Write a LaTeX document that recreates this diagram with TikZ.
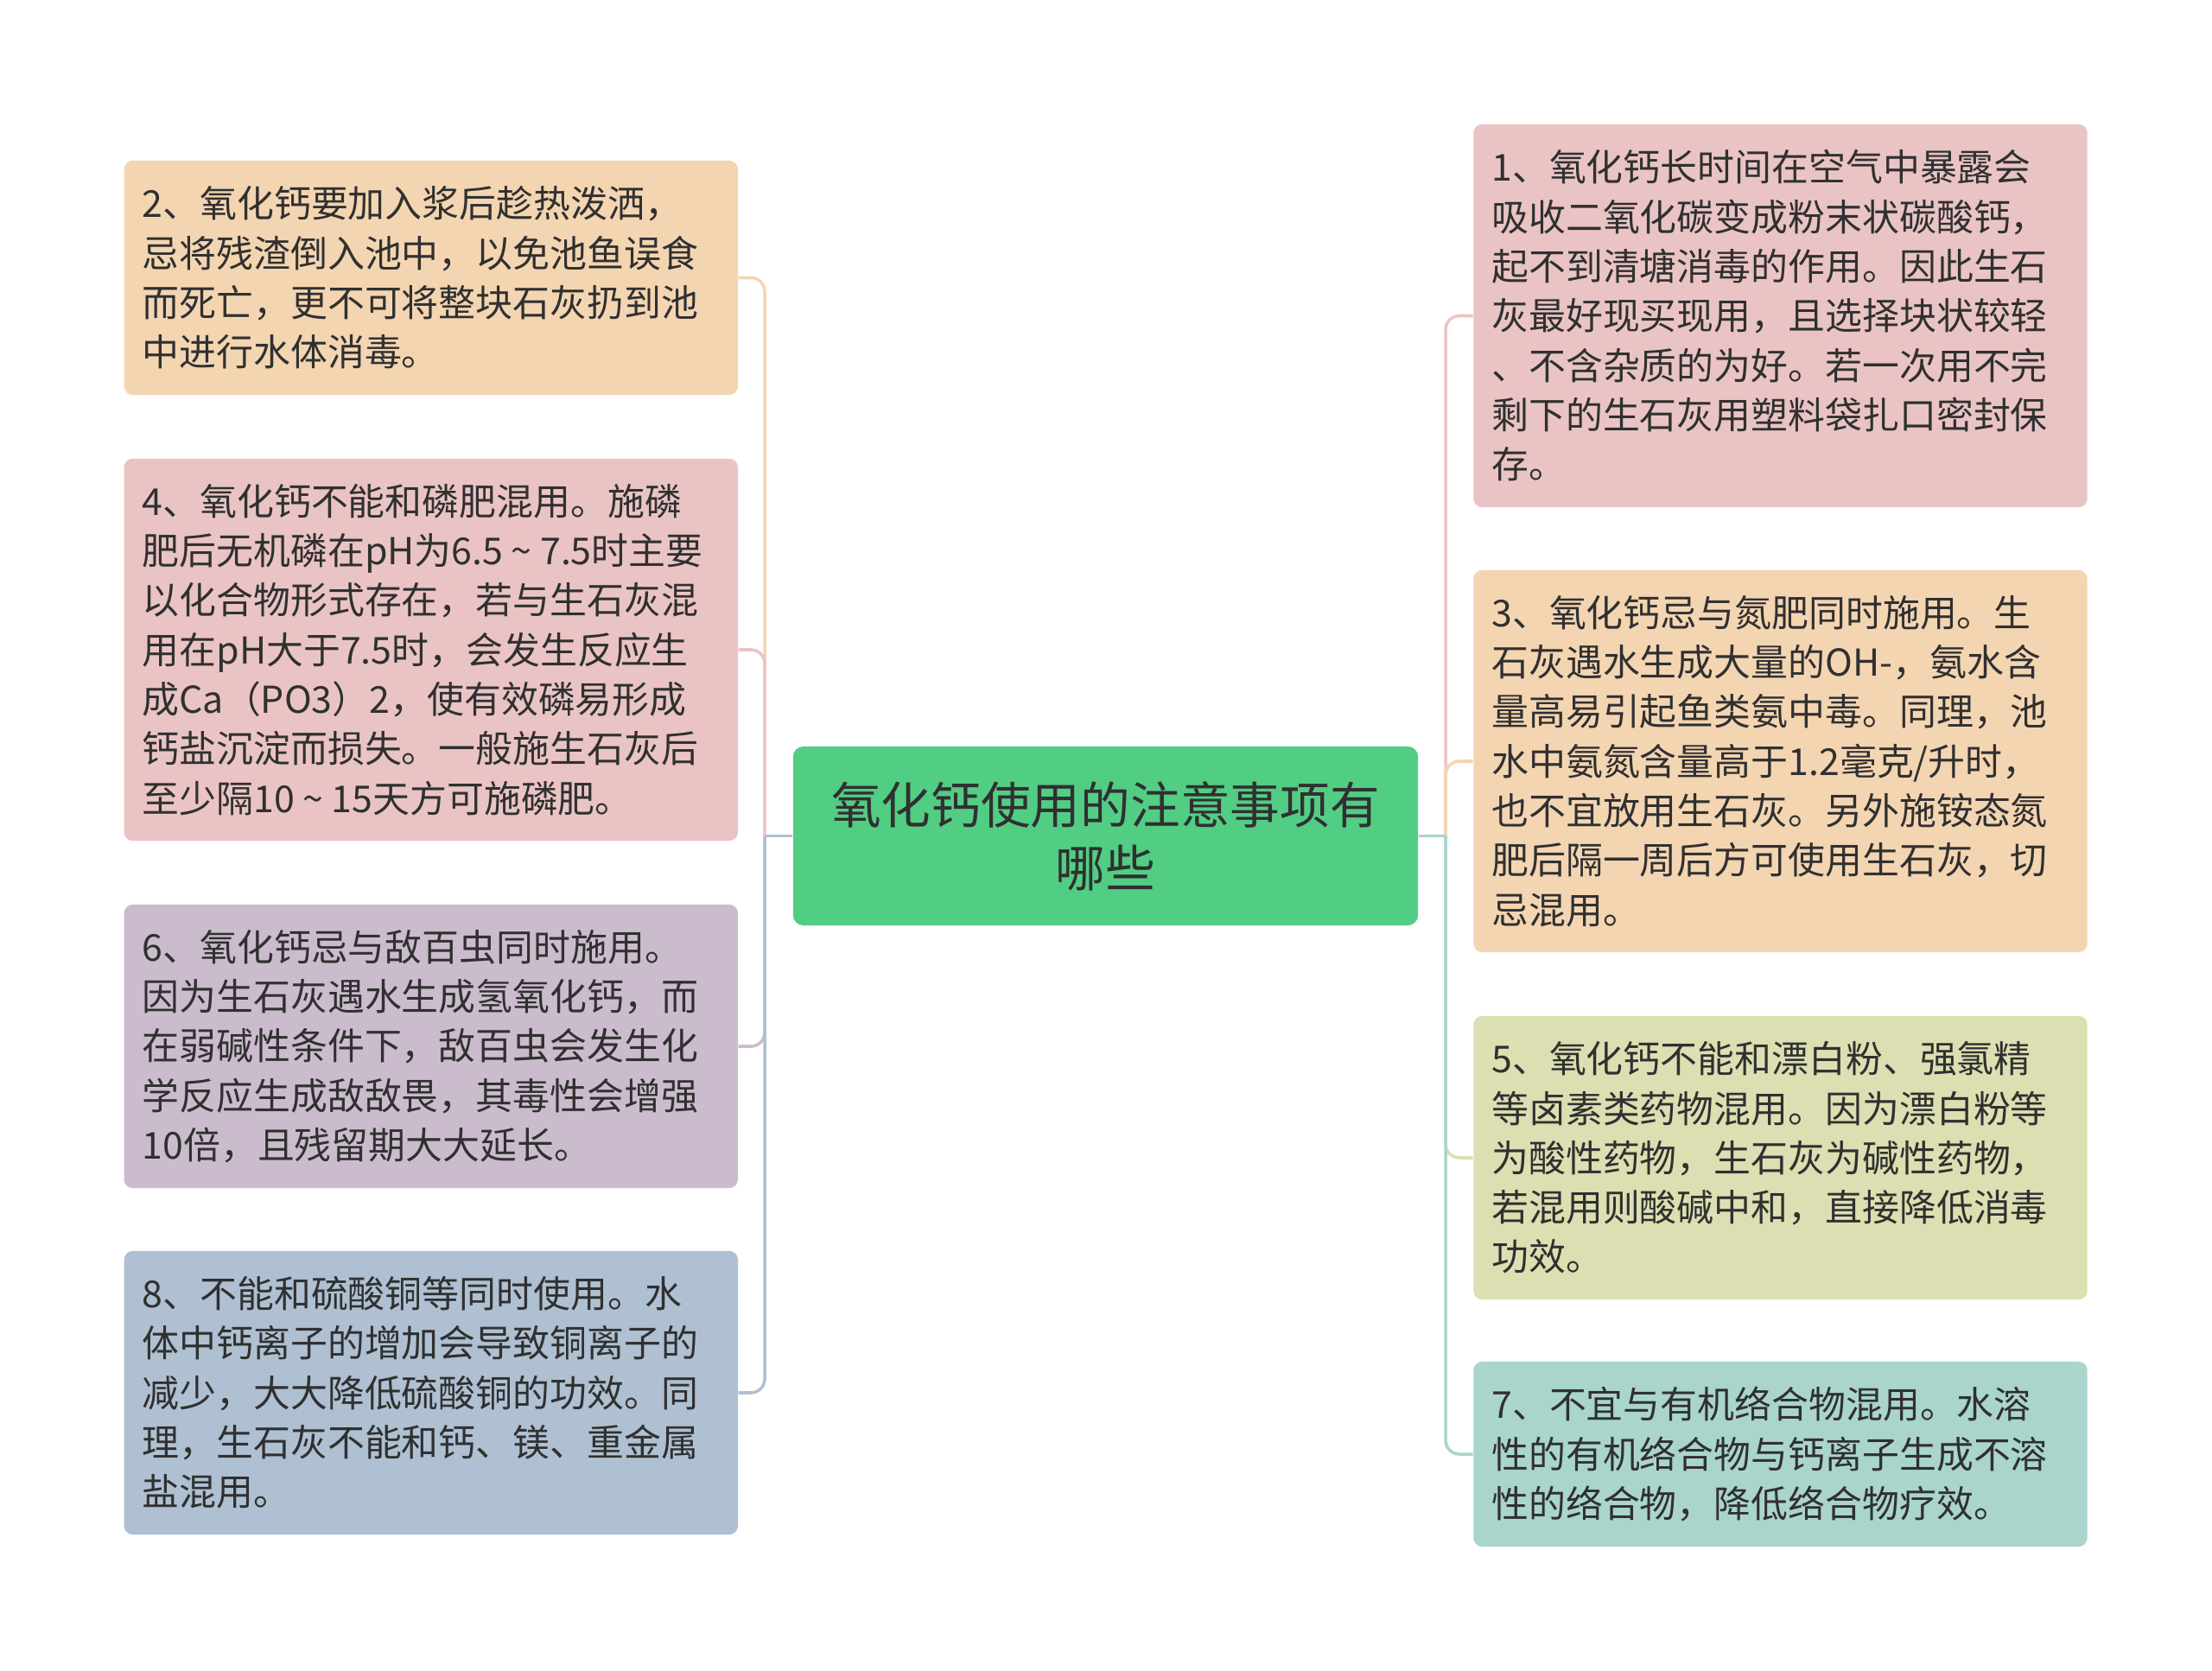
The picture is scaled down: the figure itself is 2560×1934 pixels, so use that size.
\documentclass[tikz,border=0pt]{standalone}
\usepackage{fontspec}
\setmainfont{Noto Sans CJK SC}
\definecolor{cOrange}{HTML}{F4D5B2}
\definecolor{cPink}{HTML}{EAC4C5}
\definecolor{cPurple}{HTML}{CBBCCD}
\definecolor{cBlue}{HTML}{AFC0D2}
\definecolor{cYellow}{HTML}{DCDFB1}
\definecolor{cTeal}{HTML}{A9D5CC}
\definecolor{cRoot}{HTML}{52CD84}
\definecolor{cText}{HTML}{303030}
\newcommand{\wave}{\makebox[1em][c]{\textasciitilde}}
\begin{document}
\begin{tikzpicture}[x=0.01cm,y=-0.01cm,
  leaf/.style={rounded corners=0.1cm, text=cText, align=left, text width=6.68cm,
    inner xsep=0.21cm, inner ysep=0pt, minimum width=7.1cm,
    font=\fontsize{12.2}{16.3}\selectfont},
  rootbox/.style={rounded corners=0.12cm, fill=cRoot, text=cText, align=center,
    text width=6.6cm, inner xsep=0.315cm, inner ysep=0pt, minimum width=7.23cm,
    minimum height=2.07cm, font=\fontsize{16.4}{20.8}\selectfont},
  link/.style={line width=1pt, rounded corners=0.16cm},
  stub/.style={line width=1pt}]
\useasboundingbox (0,0) rectangle (2560,1934);
\fill[white] (0,0) rectangle (2560,1934);

\node[rootbox] (root) at (1279.5,967.5) {氧化钙使用的注意事项有\\哪些};
\coordinate (jl) at (885,967.5);
\coordinate (jr) at (1673,967.5);

% left
\node[leaf, fill=cOrange, minimum height=2.71cm] (b2) at (498.8,321.5)
 {2、氧化钙要加入浆后趁热泼洒，\\忌将残渣倒入池中，以免池鱼误食\\而死亡，更不可将整块石灰扔到池\\中进行水体消毒。};
\node[leaf, fill=cPink, minimum height=4.42cm] (b4) at (498.8,752)
 {4、氧化钙不能和磷肥混用。施磷\\肥后无机磷在pH为6.5\wave 7.5时主要\\以化合物形式存在，若与生石灰混\\用在pH大于7.5时，会发生反应生\\成Ca（PO3）2，使有效磷易形成\\钙盐沉淀而损失。一般施生石灰后\\至少隔10\wave 15天方可施磷肥。};
\node[leaf, fill=cPurple, minimum height=3.28cm] (b6) at (498.8,1211)
 {6、氧化钙忌与敌百虫同时施用。\\因为生石灰遇水生成氢氧化钙，而\\在弱碱性条件下，敌百虫会发生化\\学反应生成敌敌畏，其毒性会增强\\10倍，且残留期大大延长。};
\node[leaf, fill=cBlue, minimum height=3.28cm] (b8) at (498.8,1612)
 {8、不能和硫酸铜等同时使用。水\\体中钙离子的增加会导致铜离子的\\减少，大大降低硫酸铜的功效。同\\理，生石灰不能和钙、镁、重金属\\盐混用。};

% right
\node[leaf, fill=cPink, minimum height=4.43cm] (b1) at (2060.5,365.5)
 {1、氧化钙长时间在空气中暴露会\\吸收二氧化碳变成粉末状碳酸钙，\\起不到清塘消毒的作用。因此生石\\灰最好现买现用，且选择块状较轻\\、不含杂质的为好。若一次用不完\\剩下的生石灰用塑料袋扎口密封保\\存。};
\node[leaf, fill=cOrange, minimum height=4.42cm] (b3) at (2060.5,881)
 {3、氧化钙忌与氮肥同时施用。生\\石灰遇水生成大量的OH-，氨水含\\量高易引起鱼类氨中毒。同理，池\\水中氨氮含量高于1.2毫克/升时，\\也不宜放用生石灰。另外施铵态氮\\肥后隔一周后方可使用生石灰，切\\忌混用。};
\node[leaf, fill=cYellow, minimum height=3.28cm] (b5) at (2060.5,1340)
 {5、氧化钙不能和漂白粉、强氯精\\等卤素类药物混用。因为漂白粉等\\为酸性药物，生石灰为碱性药物，\\若混用则酸碱中和，直接降低消毒\\功效。};
\node[leaf, fill=cTeal, minimum height=2.14cm] (b7) at (2060.5,1683)
 {7、不宜与有机络合物混用。水溶\\性的有机络合物与钙离子生成不溶\\性的络合物，降低络合物疗效。};

% connectors left
\draw[link, cOrange] (jl) |- (b2.east);
\draw[link, cPink] (jl) |- (b4.east);
\draw[link, cPurple] (jl) |- (b6.east);
\draw[link, cBlue] (jl) |- (b8.east);
\draw[stub, cBlue] (root.west) -- (jl);
% connectors right
\draw[link, cPink] (jr) |- (b1.west);
\draw[link, cOrange] (jr) |- (b3.west);
\draw[link, cYellow] (jr) |- (b5.west);
\draw[link, cTeal] (jr) |- (b7.west);
\draw[stub, cTeal] (root.east) -- (jr);
\end{tikzpicture}
\end{document}
